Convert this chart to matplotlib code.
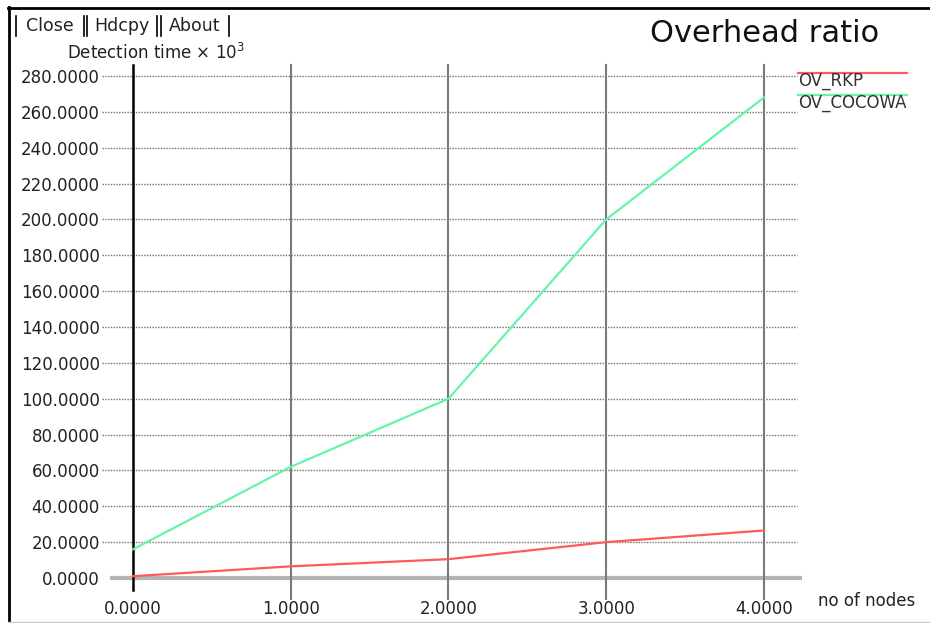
import matplotlib
matplotlib.use("Agg")
import matplotlib.pyplot as plt
from matplotlib.lines import Line2D

# Data
nodes = [0, 1, 2, 3, 4]
ov_rkp = [1.0, 6.5, 10.5, 20.0, 26.5]
ov_cocowa = [16.0, 62.0, 100.0, 200.0, 268.0]

x_ticks = [0, 1, 2, 3, 4]
y_ticks = [0, 20, 40, 60, 80, 100, 120, 140, 160, 180, 200, 220, 240, 260, 280]
x_labels = [f"{v:.4f}" for v in x_ticks]
y_labels = [f"{v:.4f}" for v in y_ticks]

series_names = ["OV_RKP", "OV_COCOWA"]
series_colors = ["#ff5a5a", "#66f5a8"]

W, H = 930, 623
fig = plt.figure(figsize=(W / 100, H / 100), dpi=100)
plt.rcParams['font.family'] = ['DejaVu Sans']


def fx(px):
    return px / W


def fy(py):
    return 1 - py / H


# plot area in pixels (left, right, top, bottom)
L, R, T, B = 102, 802, 60, 600
ax = fig.add_axes([fx(L), fy(B), fx(R) - fx(L), fy(T) - fy(B)])
ax.set_xlim(-0.1965, 4.2409)
ax.set_ylim(-12.27, 288.9)
for s in ax.spines.values():
    s.set_visible(False)

# dotted horizontal grid
ax.hlines(y_ticks[1:], 0, 0.993, transform=ax.get_yaxis_transform(),
          colors="#707070", linestyles=(0, (1, 1)), linewidth=1.0, zorder=1)
# gray zero line
ax.axhline(0, xmin=10 / 700, xmax=1.0, color="#b4b4b4", linewidth=3, zorder=1)
# vertical grid lines
for xv in x_ticks:
    if xv == 0:
        ax.axvline(xv, ymin=10 / 540, ymax=535 / 540, color="black", linewidth=1.8, zorder=2)
    else:
        ax.axvline(xv, ymin=0, ymax=535 / 540, color="#7a7a7a", linewidth=1.5, zorder=2)

ax.plot(nodes, ov_rkp, color=series_colors[0], linewidth=1.6, zorder=3)
ax.plot(nodes, ov_cocowa, color=series_colors[1], linewidth=1.6, zorder=3)

ax.set_xticks(x_ticks)
ax.set_xticklabels(x_labels)
ax.set_yticks(y_ticks)
ax.set_yticklabels(y_labels)
ax.tick_params(axis="both", length=0, labelsize=12, labelcolor="#222222")
ax.tick_params(axis="y", pad=1.5)
ax.tick_params(axis="x", pad=0)

# legend drawn like xgraph: line above label
leg_y = [73, 95]
for name, col, ly in zip(series_names, series_colors, leg_y):
    fig.add_artist(Line2D([fx(798), fx(907)], [fy(ly), fy(ly)], color=col, linewidth=1.6))
    fig.text(fx(798), fy(ly + 8), name, fontsize=12, color="#333333",
             ha="left", va="center", clip_on=False)

# titles and axis labels
fig.text(fx(765), fy(34), "Overhead ratio", fontsize=22, ha="center", va="center", color="#111111")
fig.text(fx(67), fy(53), r"Detection time × 10$^3$", fontsize=12, ha="left", va="center", color="#222222")
fig.text(fx(818), fy(601), "no of nodes", fontsize=12, ha="left", va="center", color="#222222")

# window frame
fig.add_artist(Line2D([fx(8), 1], [fy(7.5), fy(7.5)], color="black", linewidth=2))
fig.add_artist(Line2D([fx(8.5), fx(8.5)], [fy(7), 0], color="black", linewidth=2))
fig.add_artist(Line2D([fx(8), 1], [fy(622), fy(622)], color="#c8c8c8", linewidth=1))

# buttons
buttons = ["Close", "Hdcpy", "About"]
button_edges = [(15.5, 84), (87, 156.5), (161, 229)]
for label, (bl, br) in zip(buttons, button_edges):
    for bx in (bl, br):
        fig.add_artist(Line2D([fx(bx), fx(bx)], [fy(16), fy(36)], color="black", linewidth=1.2))
    fig.text(fx((bl + br) / 2), fy(26), label, fontsize=12.5, ha="center", va="center", color="#222222")

fig.savefig("out.png", dpi=100)
